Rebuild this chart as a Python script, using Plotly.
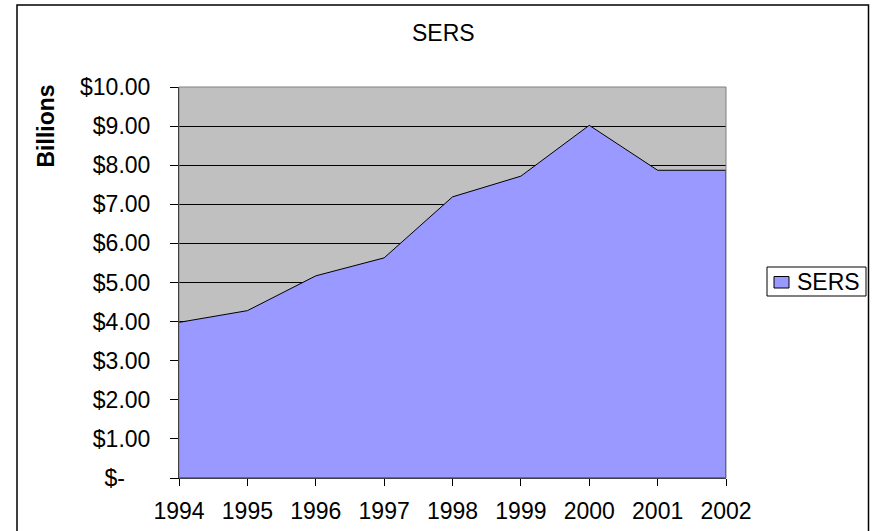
import plotly.graph_objects as go

years = [1994, 1995, 1996, 1997, 1998, 1999, 2000, 2001, 2002]
sers = [3.98, 4.28, 5.17, 5.63, 7.19, 7.72, 9.02, 7.87, 7.87]
y_ticks = [0, 1, 2, 3, 4, 5, 6, 7, 8, 9, 10]
y_ticktext = ["$-\u00a0\u00a0\u00a0\u00a0", "$1.00", "$2.00", "$3.00", "$4.00", "$5.00",
              "$6.00", "$7.00", "$8.00", "$9.00", "$10.00"]
series_name = "SERS"
chart_title = "SERS"
y_title = "Billions"

W, H = 872, 531
L, R, T, B = 179, 726, 87, 478
FONT = "Liberation Sans, Arial, sans-serif"
FS = 23


def px(x):
    return (x - L) / (R - L)


def py(y):
    return (B - y) / (B - T)


# closed polygon built from the data (area down to zero)
poly_x = years + [years[-1], years[0]]
poly_y = sers + [0, 0]

fig = go.Figure()
fig.add_trace(go.Scatter(
    x=poly_x, y=poly_y, fill="toself", mode="lines",
    fillcolor="#9999FF", line=dict(color="black", width=1),
    name=series_name, showlegend=False, hoverinfo="skip"))

fig.update_layout(
    width=W, height=H,
    margin=dict(l=L, r=W - R, t=T, b=H - B, autoexpand=False),
    paper_bgcolor="white", plot_bgcolor="#C0C0C0",
    font=dict(family=FONT, size=FS, color="black"),
    showlegend=False,
    xaxis=dict(range=[years[0], years[-1]], tickvals=years,
               ticktext=[str(y) for y in years], automargin=False,
               showgrid=False, zeroline=False, showline=True,
               linecolor="black", linewidth=1,
               ticks="outside", ticklen=7, tickcolor="black",
               ticklabelstandoff=5, tickfont=dict(size=FS)),
    yaxis=dict(range=[0, 10], tickvals=y_ticks, ticktext=y_ticktext,
               automargin=False,
               showgrid=True, gridcolor="black", gridwidth=1,
               zeroline=False, showline=True, linecolor="black", linewidth=1,
               ticks="outside", ticklen=8, tickcolor="black",
               ticklabelstandoff=15, tickfont=dict(size=FS)),
)

shapes = [
    # plot area border (top/right gray)
    dict(type="rect", xref="paper", yref="paper", x0=0, x1=1, y0=0, y1=1,
         line=dict(color="#808080", width=1), layer="above"),
    # outer chart border
    dict(type="rect", xref="paper", yref="paper",
         x0=px(17), x1=px(868.5), y0=py(540), y1=py(5),
         line=dict(color="black", width=1.5)),
    # legend box
    dict(type="rect", xref="paper", yref="paper",
         x0=px(767), x1=px(866), y0=py(296), y1=py(267),
         line=dict(color="black", width=1), fillcolor="white"),
    # legend key
    dict(type="rect", xref="paper", yref="paper",
         x0=px(774), x1=px(789), y0=py(288), y1=py(276.5),
         line=dict(color="black", width=1), fillcolor="#9999FF"),
]
fig.update_layout(shapes=shapes)

fig.add_annotation(text=chart_title, xref="paper", yref="paper",
                   x=px(443), y=py(32.5), showarrow=False,
                   xanchor="center", yanchor="middle", font=dict(size=FS))
fig.add_annotation(text="<b>" + y_title + "</b>", xref="paper", yref="paper",
                   x=px(45), y=py(126.5), showarrow=False, textangle=-90,
                   xanchor="center", yanchor="middle", font=dict(size=FS))
fig.add_annotation(text=series_name, xref="paper", yref="paper",
                   x=px(795), y=py(281.5), showarrow=False,
                   xanchor="left", yanchor="middle", font=dict(size=FS))

fig.write_html("out.html", config={"displayModeBar": False},
               post_script="document.body.style.margin='0';document.body.style.padding='0';")
